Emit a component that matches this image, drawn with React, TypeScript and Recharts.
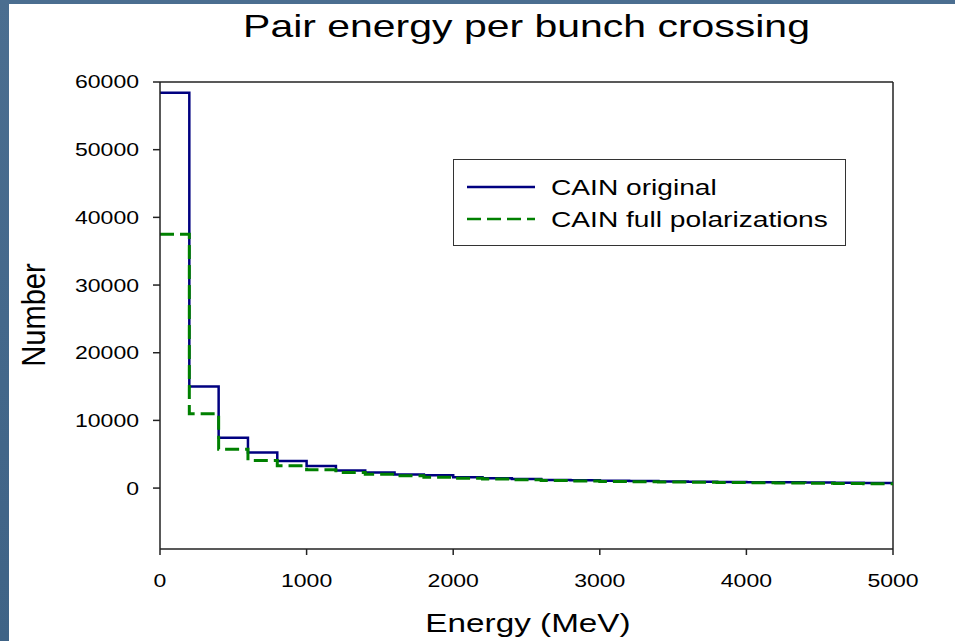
import React from 'react';
import { LineChart, Line, XAxis, YAxis, ReferenceLine, Legend } from 'recharts';

// Histogram bin lower edges (MeV); the final edge closes the last bin.
const binEdges = [
  0, 200, 400, 600, 800, 1000, 1200, 1400, 1600, 1800, 2000, 2200, 2400,
  2600, 2800, 3000, 3200, 3400, 3600, 3800, 4000, 4200, 4400, 4600, 4800, 5000,
];

// Pair counts per 200 MeV bin
const cainOriginal = [
  58400, 15000, 7450, 5270, 3990, 3250, 2600, 2300, 2010, 1910, 1610, 1450,
  1330, 1200, 1150, 1080, 1030, 990, 950, 910, 880, 850, 820, 790, 760,
];
const cainFullPolarizations = [
  37500, 11000, 5750, 4080, 3300, 2700, 2300, 2060, 1820, 1610, 1460, 1330,
  1230, 1120, 1050, 990, 940, 900, 860, 820, 780, 750, 710, 680, 650,
];

const xTicks = [0, 1000, 2000, 3000, 4000, 5000];
const yTicks = [0, 10000, 20000, 30000, 40000, 50000, 60000];

const seriesNames = ['CAIN original', 'CAIN full polarizations'];

const data = binEdges.map((energy, i) => {
  const k = Math.min(i, cainOriginal.length - 1);
  return { energy, original: cainOriginal[k], full: cainFullPolarizations[k] };
});

const FONT = '"Liberation Sans", Arial, sans-serif';
const SX = 1.28; // horizontal glyph stretch used throughout the slide

const XTick = (props: any) => {
  const { x, y, payload } = props;
  return (
    <text
      transform={`translate(${x},${y}) scale(${SX},1)`}
      textAnchor="middle"
      dy="0.71em"
      fontSize={18}
      fontFamily={FONT}
      fill="#000"
    >
      {payload.value}
    </text>
  );
};

const YTick = (props: any) => {
  const { x, y, payload } = props;
  return (
    <text
      transform={`translate(${x},${y}) scale(${SX},1)`}
      textAnchor="end"
      dy="0.36em"
      fontSize={18}
      fontFamily={FONT}
      fill="#000"
    >
      {payload.value}
    </text>
  );
};

const LegendBox = (props: any) => {
  const payload = [...(props.payload || [])].sort(
    (a: any, b: any) => seriesNames.indexOf(a.value) - seriesNames.indexOf(b.value)
  );
  return (
    <svg width={394} height={88} style={{ display: 'block' }}>
      <rect x={0.5} y={0.5} width={392} height={86} fill="#fff" stroke="#333" strokeWidth={1} />
      {payload.map((item: any, i: number) => {
        const cy = 28 + i * 32;
        return (
          <g key={item.value}>
            <line
              x1={14}
              x2={82}
              y1={cy}
              y2={cy}
              stroke={item.color}
              strokeWidth={2.5}
              strokeDasharray={item.payload && item.payload.strokeDasharray}
            />
            <text
              transform={`translate(98,${cy}) scale(${SX},1)`}
              dy="0.36em"
              fontSize={22}
              fontFamily={FONT}
              fill="#000"
            >
              {item.value}
            </text>
          </g>
        );
      })}
    </svg>
  );
};

export default function App() {
  return (
    <div
      style={{
        position: 'absolute',
        left: 0,
        top: 0,
        width: 955,
        height: 641,
        background: 'linear-gradient(180deg, #4b6e90 0%, #44688b 50%, #3f6386 100%)',
        overflow: 'hidden',
      }}
    >
      <div style={{ position: 'absolute', left: 9, top: 4, width: 946, height: 637, background: '#fff' }} />
      <div style={{ position: 'absolute', left: 0, top: 0 }}>
        <LineChart width={955} height={641} data={data} margin={{ top: 82, right: 62, bottom: 0, left: 0 }}>
          <XAxis
            type="number"
            dataKey="energy"
            domain={[0, 5000]}
            ticks={xTicks}
            height={92}
            tickSize={6}
            tickMargin={19}
            tick={<XTick />}
            stroke="#222"
            strokeWidth={1.5}
            allowDataOverflow
          />
          <YAxis
            type="number"
            domain={[-9000, 60000]}
            ticks={yTicks}
            width={160}
            tickSize={7}
            tickMargin={14}
            tick={<YTick />}
            stroke="#222"
            strokeWidth={1.5}
            allowDataOverflow
          />
          <ReferenceLine y={60000} stroke="#222" strokeWidth={1.5} />
          <ReferenceLine x={5000} stroke="#222" strokeWidth={1.5} />
          <Line
            type="stepAfter"
            dataKey="original"
            name={seriesNames[0]}
            stroke="#000080"
            strokeWidth={2.5}
            dot={false}
            isAnimationActive={false}
          />
          <Line
            type="stepAfter"
            dataKey="full"
            name={seriesNames[1]}
            stroke="#008000"
            strokeWidth={3}
            strokeDasharray="14 6"
            dot={false}
            isAnimationActive={false}
          />
          <Legend
            layout="vertical"
            verticalAlign="middle"
            align="center"
            content={<LegendBox />}
            wrapperStyle={{ position: 'absolute', left: 453, top: 159, width: 394, height: 88 }}
          />
          <text
            transform={`translate(526.5,37) scale(${SX},1)`}
            textAnchor="middle"
            fontSize={32}
            fontFamily={FONT}
            fill="#000"
          >
            Pair energy per bunch crossing
          </text>
          <text
            transform={`translate(528,632) scale(${SX},1)`}
            textAnchor="middle"
            fontSize={26}
            fontFamily={FONT}
            fill="#000"
          >
            Energy (MeV)
          </text>
          <text
            transform={`translate(45,315) scale(${SX},1.12) rotate(-90)`}
            textAnchor="middle"
            fontSize={26}
            fontFamily={FONT}
            fill="#000"
          >
            Number
          </text>
        </LineChart>
      </div>
    </div>
  );
}
